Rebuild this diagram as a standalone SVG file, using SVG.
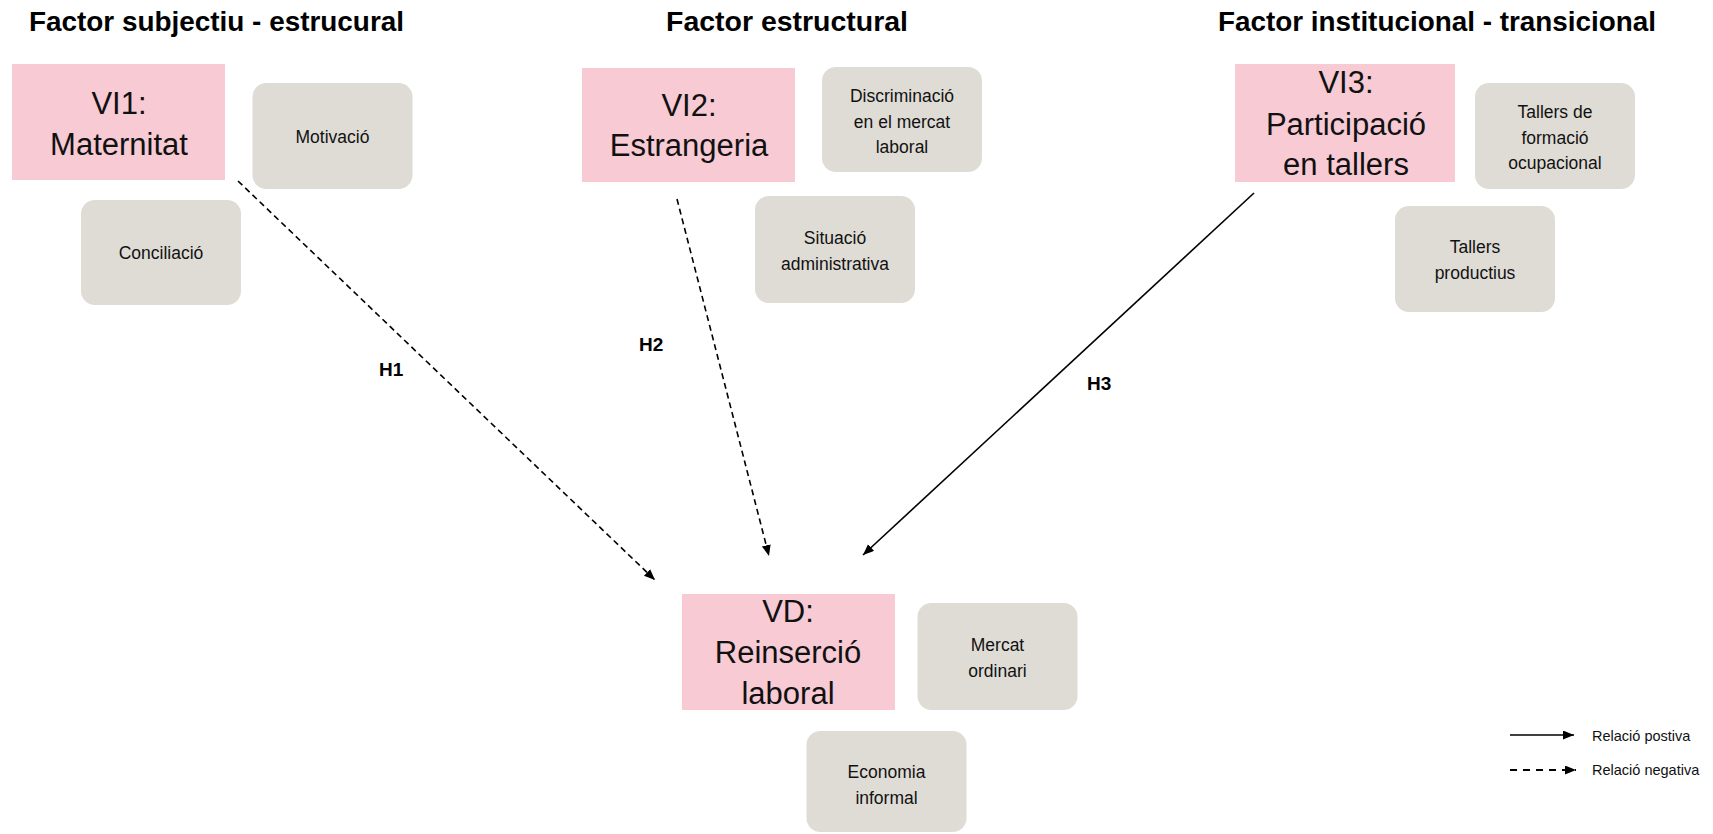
<svg xmlns="http://www.w3.org/2000/svg" width="1713" height="834" viewBox="0 0 1713 834">
<style>
  .bg { fill: #ffffff; }
  .var { fill: #F7CAD4; }
  .dim { fill: #DFDCD5; }
  .title { font-family: "Liberation Sans", Arial, sans-serif; font-weight: bold; font-size: 27px; fill: #000; }
  .vt { font-family: "Liberation Sans", Arial, sans-serif; font-size: 31px; fill: #111; text-anchor: middle; }
  .dt { font-family: "Liberation Sans", Arial, sans-serif; font-size: 17.5px; fill: #111; text-anchor: middle; }
  .hl { font-family: "Liberation Sans", Arial, sans-serif; font-weight: bold; font-size: 19px; fill: #000; }
  .lg { font-family: "Liberation Sans", Arial, sans-serif; font-size: 14.5px; fill: #111; }
  .solid { stroke: #000; stroke-width: 1.6; fill: none; }
  .dash { stroke: #000; stroke-width: 1.6; fill: none; stroke-dasharray: 6 4; }
  .ldash { stroke: #000; stroke-width: 2; fill: none; stroke-dasharray: 7 6; }
</style>
<defs>
  <marker id="ah" markerUnits="userSpaceOnUse" markerWidth="12" markerHeight="10" refX="11" refY="4.5" orient="auto">
    <path d="M0,0 L11,4.5 L0,9 z" fill="#000"/>
  </marker>
</defs>
<rect class="bg" x="0" y="0" width="1713" height="834"/>

<g id="titles">
  <text class="title" x="29" y="31" textLength="375" lengthAdjust="spacingAndGlyphs">Factor subjectiu - estrucural</text>
  <text class="title" x="666" y="31" textLength="242" lengthAdjust="spacingAndGlyphs">Factor estructural</text>
  <text class="title" x="1218" y="31" textLength="438" lengthAdjust="spacingAndGlyphs">Factor institucional - transicional</text>
</g>

<g id="connectors">
  <line class="dash" x1="238" y1="181" x2="655" y2="580" marker-end="url(#ah)"/>
  <line class="dash" x1="677" y1="199" x2="769" y2="556" marker-end="url(#ah)"/>
  <line class="solid" x1="1254" y1="193" x2="863" y2="555" marker-end="url(#ah)"/>
  <text class="hl" x="379" y="376">H1</text>
  <text class="hl" x="639" y="351">H2</text>
  <text class="hl" x="1087" y="390">H3</text>
</g>

<g id="vi1">
  <rect class="var" x="12" y="64" width="213" height="116"/>
  <text class="vt" x="119" y="114">VI1:</text>
  <text class="vt" x="119" y="155">Maternitat</text>
</g>
<g id="motivacio">
  <rect class="dim" x="252.5" y="83" width="160" height="106" rx="14"/>
  <text class="dt" x="332.5" y="142.5">Motivació</text>
</g>
<g id="conciliacio">
  <rect class="dim" x="81" y="200" width="160" height="105" rx="14"/>
  <text class="dt" x="161" y="259">Conciliació</text>
</g>

<g id="vi2">
  <rect class="var" x="582" y="68" width="213" height="114"/>
  <text class="vt" x="689" y="115.5">VI2:</text>
  <text class="vt" x="689" y="156">Estrangeria</text>
</g>
<g id="discriminacio">
  <rect class="dim" x="822" y="67" width="160" height="105" rx="14"/>
  <text class="dt" x="902" y="101.5">Discriminació</text>
  <text class="dt" x="902" y="127.5">en el mercat</text>
  <text class="dt" x="902" y="152.5">laboral</text>
</g>
<g id="situacio">
  <rect class="dim" x="755" y="196" width="160" height="107" rx="14"/>
  <text class="dt" x="835" y="244">Situació</text>
  <text class="dt" x="835" y="270">administrativa</text>
</g>

<g id="vi3">
  <rect class="var" x="1235" y="64" width="220" height="118"/>
  <text class="vt" x="1346" y="93">VI3:</text>
  <text class="vt" x="1346" y="135">Participació</text>
  <text class="vt" x="1346" y="175">en tallers</text>
</g>
<g id="tallers-formacio">
  <rect class="dim" x="1475" y="83" width="160" height="106" rx="14"/>
  <text class="dt" x="1555" y="118">Tallers de</text>
  <text class="dt" x="1555" y="144">formació</text>
  <text class="dt" x="1555" y="169">ocupacional</text>
</g>
<g id="tallers-productius">
  <rect class="dim" x="1395" y="206" width="160" height="106" rx="14"/>
  <text class="dt" x="1475" y="253">Tallers</text>
  <text class="dt" x="1475" y="278.5">productius</text>
</g>

<g id="vd">
  <rect class="var" x="682" y="594" width="213" height="116"/>
  <text class="vt" x="788" y="621.5">VD:</text>
  <text class="vt" x="788" y="662.5">Reinserció</text>
  <text class="vt" x="788" y="704">laboral</text>
</g>
<g id="mercat">
  <rect class="dim" x="917.5" y="603" width="160" height="107" rx="14"/>
  <text class="dt" x="997.5" y="651">Mercat</text>
  <text class="dt" x="997.5" y="676.5">ordinari</text>
</g>
<g id="economia">
  <rect class="dim" x="806.5" y="731" width="160" height="101" rx="14"/>
  <text class="dt" x="886.5" y="778">Economia</text>
  <text class="dt" x="886.5" y="804">informal</text>
</g>

<g id="legend">
  <line class="solid" x1="1510" y1="735" x2="1574" y2="735" marker-end="url(#ah)"/>
  <text class="lg" x="1592" y="740.5">Relació postiva</text>
  <line class="ldash" x1="1510" y1="770" x2="1576" y2="770" marker-end="url(#ah)"/>
  <text class="lg" x="1592" y="774.5">Relació negativa</text>
</g>
</svg>
